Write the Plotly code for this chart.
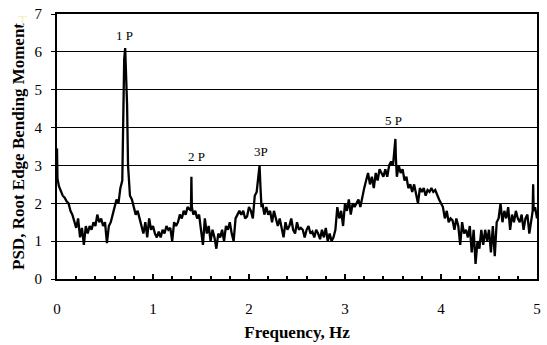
import plotly.graph_objects as go

freq = [0.00, 0.005, 0.02, 0.04, 0.06, 0.08, 0.10, 0.12, 0.14, 0.16, 0.18, 0.20, 0.22, 0.24, 0.26, 0.28,
        0.30, 0.32, 0.34, 0.36, 0.38, 0.40, 0.42, 0.44, 0.46, 0.48, 0.50, 0.52, 0.54, 0.56, 0.58,
        0.60, 0.62, 0.64, 0.66, 0.68, 0.69, 0.70, 0.71, 0.72, 0.73, 0.74, 0.76, 0.78, 0.80, 0.82,
        0.84, 0.86, 0.88, 0.90, 0.92, 0.94, 0.96, 0.98, 1.00, 1.02, 1.04, 1.06, 1.08, 1.10, 1.12,
        1.14, 1.16, 1.18, 1.20, 1.22, 1.24, 1.26, 1.28, 1.30, 1.32, 1.34, 1.36, 1.38, 1.395, 1.40, 1.405,
        1.42, 1.44, 1.46, 1.48, 1.50, 1.52, 1.54, 1.56, 1.58, 1.60, 1.62, 1.64, 1.66, 1.68, 1.70,
        1.72, 1.74, 1.76, 1.78, 1.80, 1.82, 1.84, 1.86, 1.88, 1.90, 1.92, 1.94, 1.96, 1.98, 2.00,
        2.02, 2.04, 2.06, 2.08, 2.11, 2.12, 2.13, 2.14, 2.16, 2.18, 2.20, 2.22, 2.24, 2.26, 2.28,
        2.30, 2.32, 2.34, 2.36, 2.38, 2.40, 2.42, 2.44, 2.46, 2.48, 2.50, 2.52, 2.54, 2.56, 2.58,
        2.60, 2.62, 2.64, 2.66, 2.68, 2.70, 2.72, 2.74, 2.76, 2.78, 2.80, 2.82, 2.84, 2.86, 2.88,
        2.90, 2.92, 2.94, 2.96, 2.98, 3.00, 3.02, 3.04, 3.06, 3.08, 3.10, 3.12, 3.14, 3.16, 3.18,
        3.20, 3.22, 3.24, 3.26, 3.28, 3.30, 3.32, 3.34, 3.36, 3.38, 3.40, 3.42, 3.44, 3.46, 3.48,
        3.50, 3.525, 3.53, 3.535, 3.54, 3.56, 3.58, 3.60, 3.62, 3.64, 3.66, 3.68, 3.70, 3.72, 3.74,
        3.76, 3.78, 3.80, 3.82, 3.84, 3.86, 3.88, 3.90, 3.92, 3.94, 3.96, 3.98, 4.00, 4.02, 4.04,
        4.06, 4.08, 4.10, 4.12, 4.14, 4.16, 4.18, 4.20, 4.22, 4.24, 4.26, 4.28, 4.30, 4.32, 4.34,
        4.36, 4.38, 4.40, 4.42, 4.44, 4.46, 4.48, 4.50, 4.52, 4.54, 4.56, 4.58, 4.60, 4.62, 4.64,
        4.66, 4.68, 4.70, 4.72, 4.74, 4.76, 4.78, 4.80, 4.82, 4.84, 4.86, 4.88, 4.90, 4.92, 4.94,
        4.955, 4.96, 4.965, 4.98, 5.00]

psd = [3.45, 2.65, 2.45, 2.30, 2.20, 2.15, 2.05, 2.00, 1.80, 1.70, 1.50, 1.35, 1.60, 1.10, 1.35, 0.90,
       1.40, 1.20, 1.40, 1.30, 1.50, 1.40, 1.70, 1.50, 1.60, 1.40, 1.50, 0.95, 1.40, 1.50, 1.70,
       1.90, 2.10, 2.00, 2.40, 2.60, 4.50, 5.80, 6.10, 5.50, 4.60, 3.00, 2.20, 2.10, 1.90, 1.70,
       1.80, 1.60, 1.40, 1.20, 1.50, 1.10, 1.60, 1.30, 1.40, 1.20, 1.10, 1.25, 1.10, 1.30, 1.20,
       1.40, 1.30, 1.35, 1.00, 1.50, 1.40, 1.50, 1.70, 1.60, 1.80, 1.70, 1.90, 1.85, 1.80, 2.70, 1.90,
       1.70, 1.80, 1.60, 1.70, 1.30, 0.90, 1.60, 1.20, 1.40, 1.00, 1.30, 1.10, 0.80, 1.20, 1.10,
       1.30, 1.00, 1.40, 1.30, 1.50, 1.20, 1.00, 1.60, 1.70, 1.80, 1.70, 1.80, 1.60, 1.65, 1.90,
       1.80, 1.60, 2.20, 2.30, 3.00, 2.40, 1.90, 2.00, 1.70, 1.90, 1.70, 1.80, 1.50, 1.80, 1.60,
       1.40, 1.60, 1.30, 1.10, 1.50, 1.30, 1.40, 1.60, 1.30, 1.20, 1.50, 1.30, 1.35, 1.30, 1.10,
       1.30, 1.40, 1.20, 1.25, 1.10, 1.30, 1.20, 1.05, 1.30, 1.10, 1.35, 1.00, 1.20, 1.00, 1.10,
       1.30, 1.90, 1.60, 1.80, 1.40, 2.00, 1.80, 2.10, 1.70, 2.00, 1.90, 2.00, 2.10, 1.90, 2.20,
       2.40, 2.60, 2.80, 2.50, 2.70, 2.40, 2.80, 2.60, 2.90, 2.80, 2.70, 2.90, 2.70, 3.00, 3.10,
       3.00, 3.70, 3.20, 3.00, 2.70, 3.00, 2.80, 2.90, 2.60, 2.70, 2.40, 2.50, 2.30, 2.50, 2.20,
       2.00, 2.40, 2.30, 2.40, 2.20, 2.35, 2.30, 2.40, 2.30, 2.35, 2.20, 2.10, 2.00, 1.90, 1.60,
       1.80, 1.50, 1.60, 1.55, 1.30, 1.60, 1.40, 0.90, 1.50, 1.20, 1.30, 1.10, 1.40, 0.70, 1.30,
       0.40, 1.00, 0.80, 1.30, 0.90, 1.30, 1.00, 1.30, 0.70, 1.40, 0.60, 1.50, 1.60, 2.00, 1.50,
       1.80, 1.60, 1.90, 1.30, 1.70, 1.50, 1.80, 1.60, 1.50, 1.70, 1.30, 1.60, 1.70, 1.20, 1.60,
       1.80, 2.50, 1.80, 1.90, 1.60]

peak_labels = ["1 P", "2 P", "3P", "5 P"]
peak_freq = [0.70, 1.45, 2.13, 3.51]
peak_level = [6.42, 3.24, 3.37, 4.20]

font_family = "Liberation Serif, Times New Roman, serif"

fig = go.Figure()
fig.add_trace(go.Scatter(x=freq, y=psd, mode="lines",
                         line=dict(color="black", width=2.3), showlegend=False,
                         hoverinfo="skip"))

for lab, fx, fy in zip(peak_labels, peak_freq, peak_level):
    fig.add_annotation(x=fx, y=fy, text=lab, showarrow=False,
                       font=dict(family=font_family, size=13, color="black"))

fig.add_annotation(xref="paper", yref="paper", x=-0.085, y=1.01, text="T", showarrow=False,
                   font=dict(family=font_family, size=15, color="#f4f0c0"))

fig.update_layout(
    width=547, height=345,
    margin=dict(l=57, r=6, t=10, b=66),
    paper_bgcolor="white", plot_bgcolor="white",
    font=dict(family=font_family, color="black"),
    xaxis=dict(range=[0, 5], tickvals=[0, 1, 2, 3, 4, 5], ticks="inside", ticklen=5,
               tickwidth=1.5, tickcolor="black",
               minor=dict(dtick=0.2, ticks="inside", ticklen=3, tickwidth=1.5, tickcolor="black"),
               showline=True, linecolor="black", linewidth=2, mirror=True,
               showgrid=False, zeroline=False,
               tickfont=dict(size=15, family=font_family),
               ticklabelstandoff=15,
               title=dict(text="<b>Frequency, Hz</b>", font=dict(size=17, family=font_family), standoff=10)),
    yaxis=dict(range=[0, 7], tickvals=list(range(8)), ticks="outside", ticklen=4,
               tickcolor="black", tickwidth=1,
               showline=True, linecolor="black", linewidth=2, mirror=True,
               showgrid=True, gridcolor="black", gridwidth=1, zeroline=False,
               tickfont=dict(size=15, family=font_family),
               ticklabelstandoff=6,
               title=dict(text="<b>PSD, Root Edge Bending Moment</b>", font=dict(size=17, family=font_family), standoff=6)),
)

fig.write_html("out.html")
